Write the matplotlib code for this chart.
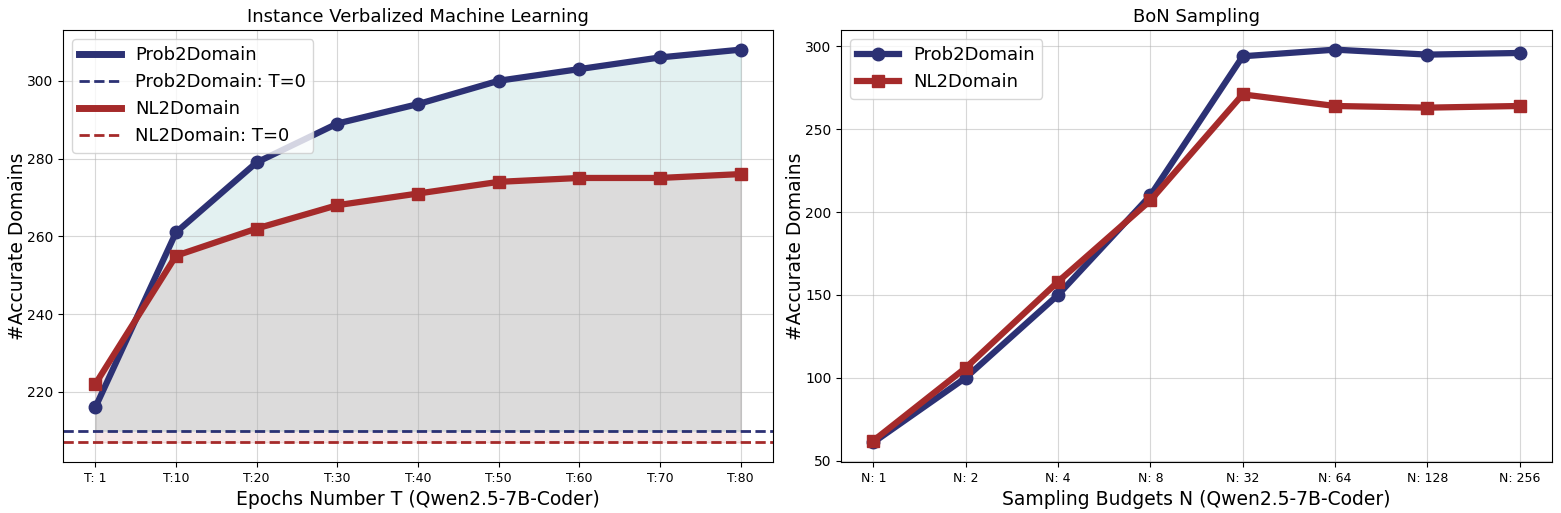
import numpy as np
import matplotlib
matplotlib.use("Agg")
import matplotlib.pyplot as plt
from matplotlib.lines import Line2D

# ── data ────────────────────────────────────────────────────────────────
epoch_labels = ["T: 1", "T:10", "T:20", "T:30", "T:40", "T:50", "T:60", "T:70", "T:80"]
prob_epochs = [216, 261, 279, 289, 294, 300, 303, 306, 308]
nl_epochs = [222, 255, 262, 268, 271, 274, 275, 275, 276]
prob_t0 = 210
nl_t0 = 207

bon_labels = ["N: 1", "N: 2", "N: 4", "N: 8", "N: 32", "N: 64", "N: 128", "N: 256"]
prob_bon = [61, 100, 150, 210, 294, 298, 295, 296]
nl_bon = [62, 106, 158, 207, 271, 264, 263, 264]

BLUE = "#2c3174"
RED = "#a52a2a"

fig = plt.figure(figsize=(15.61, 5.13), dpi=100)
ax_l = fig.add_axes([0.0404, 0.0994, 0.4548, 0.8421])
ax_r = fig.add_axes([0.5388, 0.0994, 0.4555, 0.8421])

# ── left: epochs ───────────────────────────────────────────────────────
ax = ax_l
x = np.arange(len(epoch_labels))
ax.fill_between(x, prob_epochs, prob_t0, color="teal", alpha=0.11)
ax.fill_between(x, nl_epochs, nl_t0, color=RED, alpha=0.11)
ax.plot(x, prob_epochs, color=BLUE, lw=4.5, marker="o", ms=9, zorder=4)
ax.plot(x, nl_epochs, color=RED, lw=4.5, marker="s", ms=8, zorder=4)
ax.axhline(prob_t0, color=BLUE, ls="--", lw=2)
ax.axhline(nl_t0, color=RED, ls="--", lw=2)
ax.set_xticks(x)
ax.set_xticklabels(epoch_labels, fontsize=9)
ax.tick_params(axis="y", labelsize=10)
ax.set_xlabel("Epochs Number T (Qwen2.5-7B-Coder)", fontsize=13.5)
ax.set_ylabel("#Accurate Domains", fontsize=13.5, labelpad=0)
ax.set_title("Instance Verbalized Machine Learning", fontsize=13)
ax.grid(True, alpha=0.5)
handles = [
    Line2D([0], [0], color=BLUE, lw=5, label="Prob2Domain"),
    Line2D([0], [0], color=BLUE, lw=2, ls="--", label="Prob2Domain: T=0"),
    Line2D([0], [0], color=RED, lw=5, label="NL2Domain"),
    Line2D([0], [0], color=RED, lw=2, ls="--", label="NL2Domain: T=0"),
]
ax.legend(handles=handles, loc="upper left", fontsize=13, handlelength=2.3)

# ── right: BoN sampling ────────────────────────────────────────────────
ax = ax_r
x = np.arange(len(bon_labels))
ax.plot(x, prob_bon, color=BLUE, lw=4.5, marker="o", ms=9, label="Prob2Domain")
ax.plot(x, nl_bon, color=RED, lw=4.5, marker="s", ms=8, label="NL2Domain")
ax.set_xticks(x)
ax.set_xticklabels(bon_labels, fontsize=9)
ax.tick_params(axis="y", labelsize=10)
ax.set_xlabel("Sampling Budgets N (Qwen2.5-7B-Coder)", fontsize=13.5)
ax.set_ylabel("#Accurate Domains", fontsize=13.5, labelpad=0)
ax.set_title("BoN Sampling", fontsize=13)
ax.grid(True, alpha=0.5)
ax.legend(loc="upper left", fontsize=13, handlelength=2.3)

fig.savefig("out.png", dpi=100)
